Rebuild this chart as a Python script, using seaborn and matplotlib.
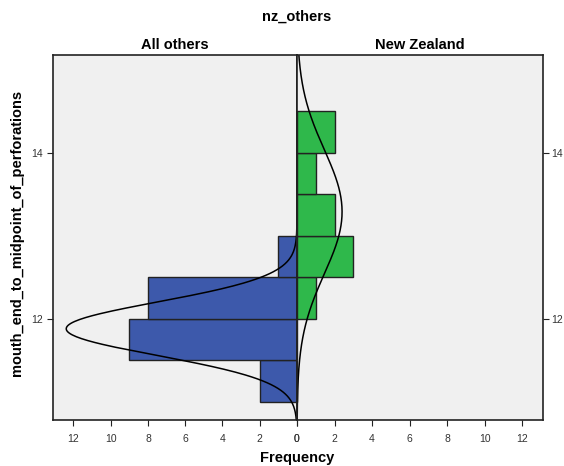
import numpy as np
import pandas as pd
import seaborn as sns
import matplotlib.pyplot as plt

# histogram bins (mouth_end_to_midpoint_of_perforations), width 0.5
bin_mids = [11.25, 11.75, 12.25, 12.75, 13.25, 13.75, 14.25]
others_counts = [2, 9, 8, 1, 0, 0, 0]
nz_counts = [0, 0, 1, 3, 2, 1, 2]

# fitted normal curves (mean, sd, n)
others_fit = (11.88, 0.322, 20)
nz_fit = (13.29, 0.748, 9)

bin_width = 0.5
blue = "#3D59AB"
green = "#2FB84B"
edge = "#222222"

sns.set_theme(style="white")
plt.rcParams["font.family"] = ["Liberation Sans", "DejaVu Sans"]
plt.rcParams["text.color"] = "black"

fig = plt.figure(figsize=(5.64, 4.66), dpi=100)
left, mid, right = 53 / 564, 297 / 564, 543 / 564
bottom, top = 1 - 420 / 466, 1 - 55 / 466
ax_l = fig.add_axes([left, bottom, mid - left, top - bottom])
ax_r = fig.add_axes([mid, bottom, right - mid, top - bottom], sharey=ax_l)

df_o = pd.DataFrame({"value": bin_mids, "count": others_counts})
df_n = pd.DataFrame({"value": bin_mids, "count": nz_counts})

sns.histplot(data=df_o, y="value", weights="count", binwidth=bin_width,
             binrange=(11.0, 14.5), color=blue, alpha=1, edgecolor=edge,
             linewidth=1, ax=ax_l)
sns.histplot(data=df_n, y="value", weights="count", binwidth=bin_width,
             binrange=(11.0, 14.5), color=green, alpha=1, edgecolor=edge,
             linewidth=1, ax=ax_r)

grid = np.linspace(10.7, 15.3, 400)
for ax, (mu, sd, n) in [(ax_l, others_fit), (ax_r, nz_fit)]:
    dens = n * bin_width * np.exp(-0.5 * ((grid - mu) / sd) ** 2) / (sd * np.sqrt(2 * np.pi))
    sns.lineplot(x=dens, y=grid, sort=False, orient="y", color="black",
                 linewidth=1.1, ax=ax)

xmax = 13.1
ax_l.set_xlim(xmax, 0)
ax_r.set_xlim(0, xmax)
ax_l.set_ylim(10.78, 15.18)

for ax in (ax_l, ax_r):
    ax.set_facecolor("#F0F0F0")
    ax.set_xticks(range(0, 13, 2))
    ax.set_yticks([12, 14])
    ax.set_xlabel("")
    ax.set_ylabel("")
    for s in ax.spines.values():
        s.set_color("#222222")
        s.set_linewidth(1.2)
    ax.tick_params(axis="both", length=4, width=0.8, color="#222222",
                   labelsize=7.5, labelcolor="#333333", pad=6)
    ax.tick_params(axis="x", bottom=True)

ax_l.tick_params(axis="y", left=True, labelleft=True, pad=3)
ax_r.tick_params(axis="y", left=False, labelleft=False, right=True,
                 labelright=True, pad=2)

ax_l.set_title("All others", fontsize=10.5, fontweight="bold", pad=4, color="black")
ax_r.set_title("New Zealand", fontsize=10.5, fontweight="bold", pad=4, color="black")
fig.text(mid, 1 - 17 / 466, "nz_others", ha="center", va="center",
         fontsize=10.5, fontweight="bold")
fig.text(mid, 1 - 458 / 466, "Frequency", ha="center", va="center",
         fontsize=10.5, fontweight="bold")
fig.text(17 / 564, (top + bottom) / 2 + 0.01, "mouth_end_to_midpoint_of_perforations",
         ha="center", va="center", rotation=90, fontsize=10.5, fontweight="bold")

fig.savefig("out.png", dpi=100)
